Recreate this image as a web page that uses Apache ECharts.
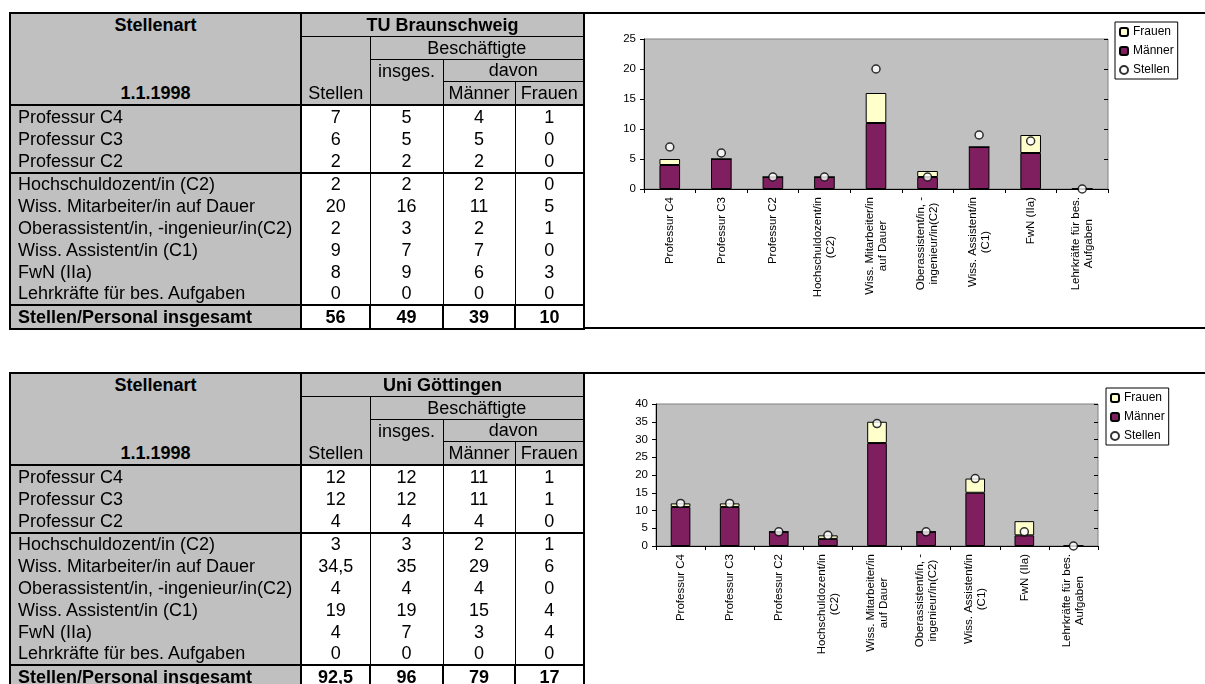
<!DOCTYPE html>
<html>
<head>
<meta charset="utf-8">
<script src="https://cdn.jsdelivr.net/npm/echarts@6/dist/echarts.min.js"></script>
<style>
html,body{margin:0;padding:0;background:#fff;width:1205px;height:684px;overflow:hidden;font-family:"Liberation Sans",Arial,sans-serif;}
#chart{position:absolute;left:0;top:0;width:1205px;height:684px;}
.hline{position:absolute;height:2px;background:#000;}
table.t{position:absolute;left:9px;border-collapse:collapse;table-layout:fixed;font-size:18px;color:#000;border:2px solid #000;}
table.t td{padding:0;height:21.8px;line-height:20px;white-space:nowrap;overflow:hidden;text-align:center;background:#fff;}
table.t td.g{background:#c0c0c0;}
table.t td.nm{text-align:left;padding-left:7px;background:#c0c0c0;border-right:2px solid #000;}
table.t td.b{font-weight:bold;}
table.t td.v{border-left:1px solid #000;border-right:1px solid #000;}
table.t tr.sep td{border-bottom:2px solid #000;}
table.t tr.hb td{border-bottom:2px solid #000;}
table.t tr.tot td{font-weight:bold;border-top:2px solid #000;}
</style>
</head>
<body>
<div id="chart"></div>
<div class="hline" style="left:583px;top:12px;width:622px;"></div>
<div class="hline" style="left:583px;top:327px;width:622px;"></div>
<div class="hline" style="left:583px;top:372px;width:622px;"></div>
<table class="t" id="t1" style="top:12px;"></table>
<table class="t" id="t2" style="top:372px;"></table>
<script>
// ---------- data ----------
const tableCategories = ["Professur C4","Professur C3","Professur C2","Hochschuldozent/in (C2)","Wiss. Mitarbeiter/in auf Dauer","Oberassistent/in, -ingenieur/in(C2)","Wiss. Assistent/in (C1)","FwN (IIa)","Lehrkräfte für bes. Aufgaben"];
const chartCategories = ["Professur C4","Professur C3","Professur C2","Hochschuldozent/in\n(C2)","Wiss. Mitarbeiter/in\nauf Dauer","Oberassistent/in, -\ningenieur/in(C2)","Wiss. Assistent/in\n(C1)","FwN (IIa)","Lehrkräfte für bes.\nAufgaben"];
const headerLabels = ["Stellenart","1.1.1998","Beschäftigte","insges.","davon","Stellen","Männer","Frauen"];
const totalLabel = "Stellen/Personal insgesamt";
const legendNames = ["Frauen","Männer","Stellen"];

const tuTitle = "TU Braunschweig";
const tuStellen = [7,6,2,2,20,2,9,8,0];
const tuInsges  = [5,5,2,2,16,3,7,9,0];
const tuMaenner = [4,5,2,2,11,2,7,6,0];
const tuFrauen  = [1,0,0,0,5,1,0,3,0];
const tuTotals  = ["56","49","39","10"];
const tuYTicks  = [0,5,10,15,20,25];

const goTitle = "Uni Göttingen";
const goStellen = [12,12,4,3,34.5,4,19,4,0];
const goInsges  = [12,12,4,3,35,4,19,7,0];
const goMaenner = [11,11,4,2,29,4,15,3,0];
const goFrauen  = [1,1,0,1,6,0,4,4,0];
const goTotals  = ["92,5","96","79","17"];
const goYTicks  = [0,5,10,15,20,25,30,35,40];

// ---------- tables ----------
const colWidths = [291,69,73,72,69];
function fmt(v){ return String(v).replace('.', ','); }
function buildTable(id, title, stellen, insges, maenner, frauen, totals){
  let h = '<colgroup>' + colWidths.map(w => '<col style="width:' + w + 'px">').join('') + '</colgroup>';
  h += '<tr><td class="g b" style="border-right:2px solid #000">' + headerLabels[0] + '</td>' +
       '<td class="g b" colspan="4" style="border-bottom:1px solid #000">' + title + '</td></tr>';
  h += '<tr><td class="g" style="border-right:2px solid #000"></td><td class="g" style="border-right:1px solid #000"></td>' +
       '<td class="g" colspan="3" style="border-bottom:1px solid #000">' + headerLabels[2] + '</td></tr>';
  h += '<tr><td class="g" style="border-right:2px solid #000"></td><td class="g" style="border-right:1px solid #000"></td>' +
       '<td class="g" style="border-right:1px solid #000">' + headerLabels[3] + '</td>' +
       '<td class="g" colspan="2" style="border-bottom:1px solid #000">' + headerLabels[4] + '</td></tr>';
  h += '<tr class="hb"><td class="g b" style="border-right:2px solid #000">' + headerLabels[1] + '</td>' +
       '<td class="g" style="border-right:1px solid #000">' + headerLabels[5] + '</td>' +
       '<td class="g" style="border-right:1px solid #000"></td>' +
       '<td class="g" style="border-right:1px solid #000">' + headerLabels[6] + '</td>' +
       '<td class="g">' + headerLabels[7] + '</td></tr>';
  tableCategories.forEach((c, i) => {
    const cls = (i === 2) ? ' class="sep"' : '';
    h += '<tr' + cls + '><td class="nm">' + c + '</td>' +
      [stellen[i], insges[i], maenner[i], frauen[i]].map(v => '<td class="v">' + fmt(v) + '</td>').join('') + '</tr>';
  });
  h += '<tr class="tot"><td class="nm">' + totalLabel + '</td>' +
       totals.map(v => '<td class="v" style="border-left:2px solid #000;border-right:2px solid #000">' + v + '</td>').join('') + '</tr>';
  document.getElementById(id).innerHTML = h;
}
buildTable('t1', tuTitle, tuStellen, tuInsges, tuMaenner, tuFrauen, tuTotals);
buildTable('t2', goTitle, goStellen, goInsges, goMaenner, goFrauen, goTotals);

// ---------- charts ----------
const font = '"Liberation Sans", Arial, sans-serif';
const fs = 11.5;
const grids = [
  {left:644, top:39, width:464, height:150},
  {left:656, top:404, width:442, height:142}
];
const legendPos = [{left:1115, top:22},{left:1106, top:388}];
const chartData = [
  {m: tuMaenner, f: tuFrauen, s: tuStellen, ticks: tuYTicks},
  {m: goMaenner, f: goFrauen, s: goStellen, ticks: goYTicks}
];

const option = {animation:false, grid:[], xAxis:[], yAxis:[], series:[], legend:[]};
chartData.forEach((d, i) => {
  option.grid.push(Object.assign({show:true, backgroundColor:'#c0c0c0', borderColor:'#808080', borderWidth:1}, grids[i]));
  const yMin = d.ticks[0], yMax = d.ticks[d.ticks.length-1], yInt = d.ticks[1]-d.ticks[0];
  const baseX = {type:'category', gridIndex:i, data:chartCategories, boundaryGap:true, splitLine:{show:false}};
  option.xAxis.push(Object.assign({}, baseX, {
    axisLine:{show:true, lineStyle:{color:'#000', width:1}},
    axisTick:{show:true, interval:0, length:4, inside:false, lineStyle:{color:'#000'}},
    axisLabel:{interval:0, rotate:90, margin:8, color:'#000', fontFamily:font, fontSize:fs,
      formatter: v => v.split('\n').map(l => '{c|' + l + '}').join('\n'),
      rich:{c:{align:'center', fontFamily:font, fontSize:fs, color:'#000', lineHeight:13}}}
  }));
  option.xAxis.push(Object.assign({}, baseX, {
    axisLine:{show:false},
    axisTick:{show:true, interval:0, length:4, inside:true, lineStyle:{color:'#000'}},
    axisLabel:{show:false}
  }));
  const baseY = {type:'value', gridIndex:i, min:yMin, max:yMax, interval:yInt, splitLine:{show:false}};
  option.yAxis.push(Object.assign({}, baseY, {
    axisLine:{show:true, lineStyle:{color:'#000', width:1}},
    axisTick:{show:true, length:4, lineStyle:{color:'#000'}},
    axisLabel:{color:'#000', fontFamily:font, fontSize:fs, margin:8}
  }));
  option.yAxis.push(Object.assign({}, baseY, {
    axisLine:{show:false},
    axisTick:{show:true, length:4, inside:true, lineStyle:{color:'#000'}},
    axisLabel:{show:false}
  }));
  option.series.push({name:'Männer', type:'bar', stack:'s'+i, xAxisIndex:2*i, yAxisIndex:2*i, data:d.m, barWidth:'40%',
    itemStyle:{color:'#7f1f5f', borderColor:'#000', borderWidth:1}, silent:true});
  option.series.push({name:'Frauen', type:'bar', stack:'s'+i, xAxisIndex:2*i, yAxisIndex:2*i, data:d.f, barWidth:'40%',
    itemStyle:{color:'#ffffcc', borderColor:'#000', borderWidth:1}, silent:true});
  option.series.push({name:'Stellen', type:'scatter', xAxisIndex:2*i, yAxisIndex:2*i, data:d.s, symbol:'circle', symbolSize:8,
    itemStyle:{color:'#fff', borderColor:'#000', borderWidth:1.5}, z:5, clip:false, silent:true});
  option.legend.push(Object.assign({orient:'vertical', data:legendNames, itemWidth:8, itemHeight:8, itemGap:7,
    padding:[4,4,3,4], borderColor:'#000', borderWidth:1, backgroundColor:'#fff', selectedMode:false,
    textStyle:{fontFamily:font, fontSize:12, color:'#000'}}, legendPos[i]));
});
const chart = echarts.init(document.getElementById('chart'));
chart.setOption(option);
</script>
</body>
</html>
